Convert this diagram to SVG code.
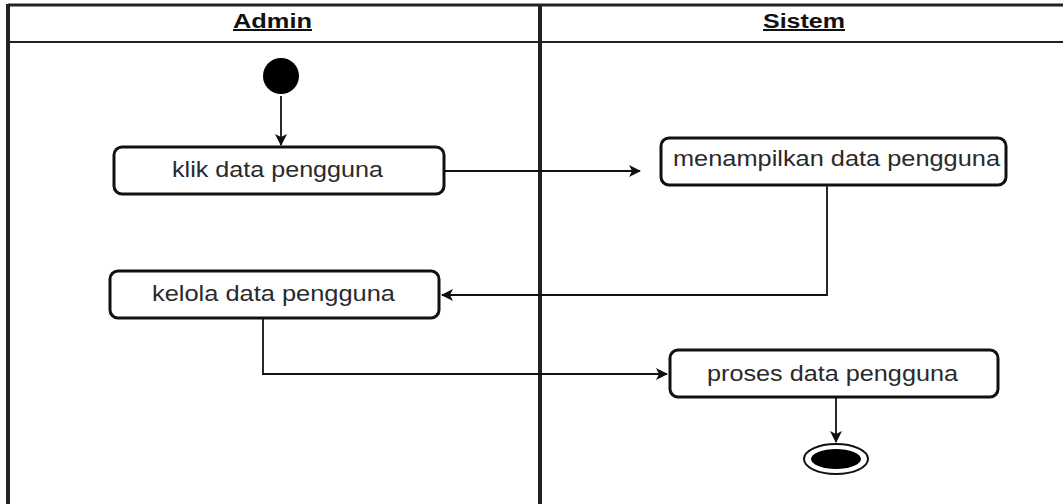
<svg xmlns="http://www.w3.org/2000/svg" width="1063" height="504" viewBox="0 0 1063 504">
<style>
.lane{fill:none;stroke:#222;stroke-width:3}
.hdr{font-family:"Liberation Sans",Arial,sans-serif;font-size:20px;font-weight:bold;fill:#111;text-anchor:start;text-decoration:underline}
.box{fill:#fff;stroke:#111;stroke-width:3}
.lbl{font-family:"Liberation Sans",Arial,sans-serif;font-size:22px;fill:#2a2a2a;text-anchor:start}
.edge{fill:none;stroke:#111;stroke-width:1.8}
</style>
<defs>
<marker id="arr" viewBox="0 0 12 12" refX="11" refY="6" markerWidth="12" markerHeight="12" markerUnits="userSpaceOnUse" orient="auto">
<path d="M0,0 L12,6 L0,12 L3,6 Z" fill="#111"/>
</marker>
</defs>
<rect width="1063" height="504" fill="#fff"/>
<g id="lanes">
<line class="lane" x1="8" y1="5" x2="1063" y2="5"/>
<line class="lane" x1="8" y1="42" x2="1063" y2="42" style="stroke-width:2"/>
<line class="lane" x1="8" y1="4" x2="8" y2="504" style="stroke-width:4"/>
<line class="lane" x1="540" y1="4" x2="540" y2="504" style="stroke-width:4"/>
<text class="hdr" x="233" y="28" textLength="79" lengthAdjust="spacingAndGlyphs">Admin</text>
<text class="hdr" x="763" y="28" textLength="82" lengthAdjust="spacingAndGlyphs">Sistem</text>
</g>
<g id="connectors">
<line class="edge" x1="281" y1="96" x2="281" y2="145" marker-end="url(#arr)"/>
<line class="edge" x1="444" y1="171" x2="640" y2="171" marker-end="url(#arr)"/>
<polyline class="edge" points="827,186 827,295 442,295" marker-end="url(#arr)"/>
<polyline class="edge" points="263,319 263,374 667,374" marker-end="url(#arr)"/>
<line class="edge" x1="836" y1="398" x2="836" y2="442" marker-end="url(#arr)"/>
</g>
<g id="start">
<circle cx="281" cy="76" r="18" fill="#000"/>
</g>
<g id="klik">
<rect class="box" x="114" y="147" width="330" height="47" rx="8"/>
<text class="lbl" x="172" y="177" textLength="211" lengthAdjust="spacingAndGlyphs">klik data pengguna</text>
</g>
<g id="menampilkan">
<rect class="box" x="661" y="138" width="345" height="47" rx="8"/>
<text class="lbl" x="673" y="166" textLength="327" lengthAdjust="spacingAndGlyphs">menampilkan data pengguna</text>
</g>
<g id="kelola">
<rect class="box" x="110" y="271" width="329" height="47" rx="8"/>
<text class="lbl" x="152" y="301" textLength="243" lengthAdjust="spacingAndGlyphs">kelola data pengguna</text>
</g>
<g id="proses">
<rect class="box" x="670" y="350" width="328" height="47" rx="8"/>
<text class="lbl" x="707" y="381" textLength="251" lengthAdjust="spacingAndGlyphs">proses data pengguna</text>
</g>
<g id="end">
<ellipse cx="836" cy="459" rx="32" ry="15" fill="#fff" stroke="#111" stroke-width="2"/>
<ellipse cx="836" cy="459" rx="25" ry="10" fill="#000"/>
</g>
</svg>
